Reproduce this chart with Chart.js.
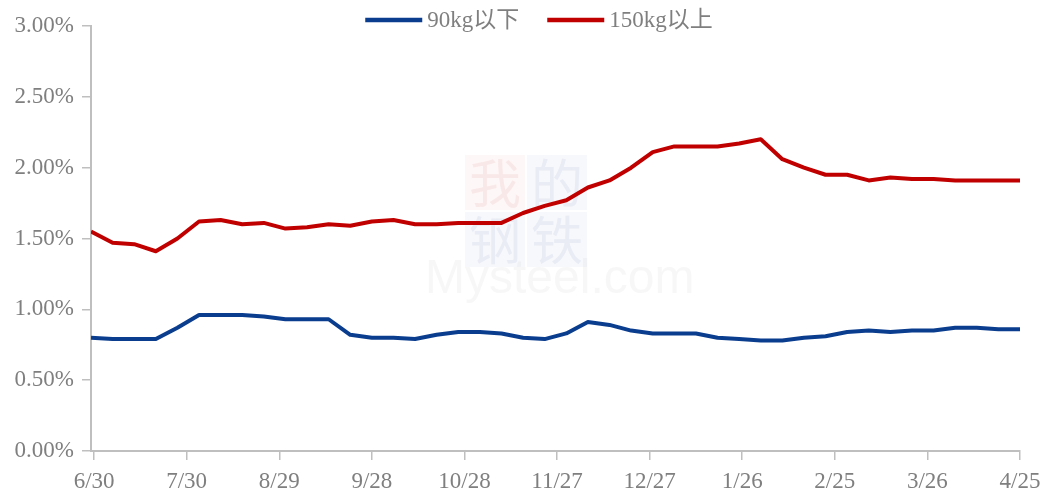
<!DOCTYPE html>
<html>
<head>
<meta charset="utf-8">
<script src="https://cdn.jsdelivr.net/npm/chart.js@4/dist/chart.umd.min.js"></script>
<style>
html,body{margin:0;padding:0;background:#fff;}
#c{display:block;}
</style>
</head>
<body>
<canvas id="c" width="1046" height="493"></canvas>
<script>
// Weekly observation dates
const weekDates = ['2023-06-29','2023-07-06','2023-07-13','2023-07-20','2023-07-27','2023-08-03','2023-08-10','2023-08-17','2023-08-24','2023-08-31',
  '2023-09-07','2023-09-14','2023-09-21','2023-09-28','2023-10-05','2023-10-12','2023-10-19','2023-10-26','2023-11-02','2023-11-09',
  '2023-11-16','2023-11-23','2023-11-30','2023-12-07','2023-12-14','2023-12-21','2023-12-28','2024-01-04','2024-01-11','2024-01-18',
  '2024-01-25','2024-02-01','2024-02-08','2024-02-15','2024-02-22','2024-02-29','2024-03-07','2024-03-14','2024-03-21','2024-03-28',
  '2024-04-04','2024-04-11','2024-04-18','2024-04-25'];
// 90kg以下 (%)
const seriesBelow90 = [0.80,0.79,0.79,0.79,0.87,0.96,0.96,0.96,0.95,0.93,
  0.93,0.93,0.82,0.80,0.80,0.79,0.82,0.84,0.84,0.83,
  0.80,0.79,0.83,0.91,0.89,0.85,0.83,0.83,0.83,0.80,
  0.79,0.78,0.78,0.80,0.81,0.84,0.85,0.84,0.85,0.85,
  0.87,0.87,0.86,0.86];
// 150kg以上 (%)
const seriesAbove150 = [1.55,1.47,1.46,1.41,1.50,1.62,1.63,1.60,1.61,1.57,
  1.58,1.60,1.59,1.62,1.63,1.60,1.60,1.61,1.61,1.61,
  1.68,1.73,1.77,1.86,1.91,2.00,2.11,2.15,2.15,2.15,
  2.17,2.20,2.06,2.00,1.95,1.95,1.91,1.93,1.92,1.92,
  1.91,1.91,1.91,1.91];
// X tick dates and labels
const xTickDates = ['2023-06-30','2023-07-30','2023-08-29','2023-09-28','2023-10-28','2023-11-27','2023-12-27','2024-01-26','2024-02-25','2024-03-26','2024-04-25'];
const xTickLabels = ['6/30','7/30','8/29','9/28','10/28','11/27','12/27','1/26','2/25','3/26','4/25'];
// Y ticks (%)
const yTickValues = [0,0.5,1,1.5,2,2.5,3];

const seriesNames = ['90kg以下','150kg以上'];
const seriesColors = ['#0b3d8f','#c00000'];

const origin = Date.UTC(2023,5,29);
function dayOf(s){const p=s.split('-').map(Number);return Math.round((Date.UTC(p[0],p[1]-1,p[2])-origin)/86400000);}
const xs = weekDates.map(dayOf);
const tickDays = xTickDates.map(dayOf);
const tickLabelMap = {};
tickDays.forEach((d,i)=>tickLabelMap[d]=xTickLabels[i]);

const FONT = "'Liberation Serif', 'Times New Roman', 'Noto Sans CJK SC', serif";
const GRAY = '#7f7f7f';
const AXIS = '#bfbfbf';

const watermark = {
  id:'watermark',
  beforeDatasetsDraw(chart){
    const ctx = chart.ctx;
    ctx.save();
    ctx.fillStyle='rgba(230,120,120,0.06)';
    ctx.fillRect(465,155,60,55);
    ctx.fillStyle='rgba(120,140,200,0.06)';
    ctx.fillRect(527,155,60,55);
    ctx.fillRect(465,212,60,55);
    ctx.fillRect(527,212,60,55);
    ctx.font = "52px 'Noto Sans CJK SC'";
    ctx.textAlign='center';ctx.textBaseline='middle';
    ctx.fillStyle='rgba(200,80,80,0.09)';
    ctx.fillText('我',495,183);
    ctx.fillStyle='rgba(90,110,170,0.09)';
    ctx.fillText('的',557,183);
    ctx.fillText('钢',495,240);
    ctx.fillText('铁',557,240);
    ctx.font = "48px 'Liberation Sans', Arial, sans-serif";
    ctx.fillStyle='rgba(150,150,150,0.08)';
    ctx.textAlign='left';ctx.textBaseline='alphabetic';
    ctx.fillText('Mysteel.com',425,293);
    ctx.restore();
  }
};

// Legend drawn at the top
const topLegend = {
  id:'topLegend',
  afterDraw(chart){
    const ctx = chart.ctx;
    ctx.save();
    ctx.font = "23px " + FONT;
    ctx.textBaseline='middle';
    ctx.textAlign='left';
    const boxW = 57, boxH = 4.5, gapBox = 5, gapItem = 28, cy = 20;
    const widths = chart.data.datasets.map(d=>ctx.measureText(d.label).width);
    let total = 0;
    widths.forEach((w,i)=>{ total += boxW + gapBox + w + (i<widths.length-1?gapItem:0); });
    let x = 539 - total/2;
    chart.data.datasets.forEach((d,i)=>{
      ctx.fillStyle = d.borderColor;
      ctx.fillRect(x, cy - boxH/2, boxW, boxH);
      x += boxW + gapBox;
      ctx.fillStyle = GRAY;
      ctx.fillText(d.label, x, cy + 1);
      x += widths[i] + gapItem;
    });
    ctx.restore();
  }
};

new Chart(document.getElementById('c'), {
  type:'line',
  data:{
    datasets:[
      {label:seriesNames[0], data:xs.map((x,i)=>({x, y:seriesBelow90[i]})), borderColor:seriesColors[0], backgroundColor:seriesColors[0], borderWidth:4, pointRadius:0, tension:0, borderJoinStyle:'round'},
      {label:seriesNames[1], data:xs.map((x,i)=>({x, y:seriesAbove150[i]})), borderColor:seriesColors[1], backgroundColor:seriesColors[1], borderWidth:4, pointRadius:0, tension:0, borderJoinStyle:'round'}
    ]
  },
  options:{
    responsive:false,
    animation:false,
    devicePixelRatio:1,
    layout:{padding:{left:0,right:26,top:26,bottom:0}},
    plugins:{
      legend:{display:false},
      tooltip:{enabled:false}
    },
    scales:{
      x:{
        type:'linear',
        min:0,
        max:dayOf(xTickDates[xTickDates.length-1]),
        afterBuildTicks(scale){scale.ticks = tickDays.map(v=>({value:v}));},
        afterFit(scale){scale.height = 42; scale.paddingRight = 0; scale.paddingLeft = 0;},
        ticks:{
          autoSkip:false,
          maxRotation:0,
          font:{family:FONT,size:23,lineHeight:1},
          color:GRAY,
          padding:10,
          callback:(v)=>tickLabelMap[v] ?? ''
        },
        grid:{display:true, drawOnChartArea:false, drawTicks:true, tickLength:9, color:AXIS, lineWidth:1.5},
        border:{color:AXIS,width:2}
      },
      y:{
        min:0,
        max:3,
        afterBuildTicks(scale){scale.ticks = yTickValues.map(v=>({value:v}));},
        afterFit(scale){scale.width = 91;},
        ticks:{
          font:{family:FONT,size:23,lineHeight:1},
          color:GRAY,
          padding:8,
          callback:(v)=>Number(v).toFixed(2)+'%'
        },
        grid:{display:true, drawOnChartArea:false, drawTicks:true, tickLength:9, color:AXIS, lineWidth:1.5},
        border:{color:AXIS,width:2}
      }
    }
  },
  plugins:[watermark, topLegend]
});
</script>
</body>
</html>
